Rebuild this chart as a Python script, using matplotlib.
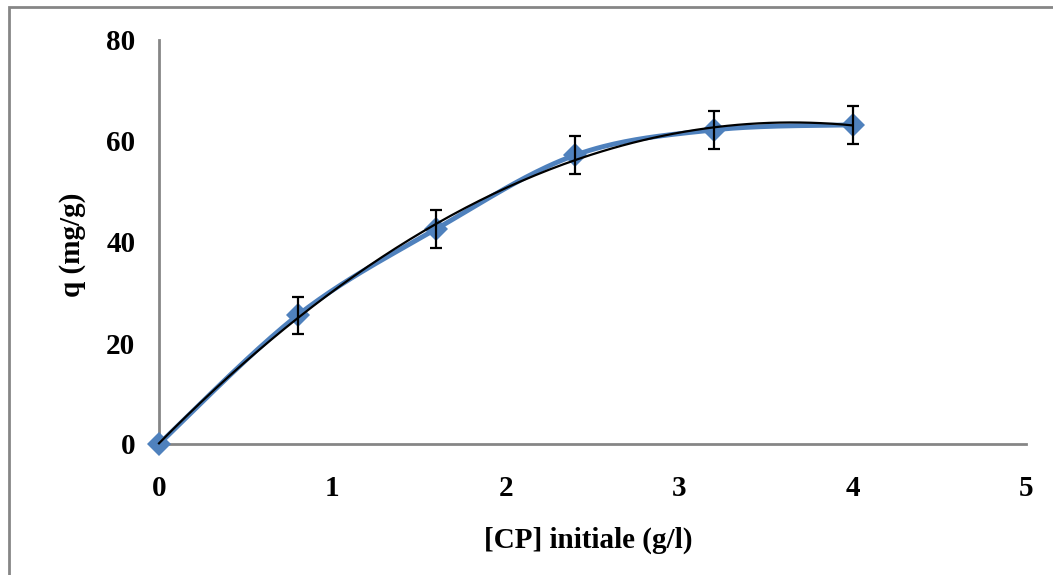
import numpy as np
import matplotlib
matplotlib.use("Agg")
import matplotlib.pyplot as plt
from matplotlib.patches import Rectangle

# Data
cp_initial = [0.0, 0.8, 1.6, 2.4, 3.2, 4.0]
q_values = [0.0, 25.5, 42.6, 57.2, 62.2, 63.2]
q_errors = [0.0, 3.7, 3.7, 3.7, 3.7, 3.7]
x_ticks = [0, 1, 2, 3, 4, 5]
y_ticks = [0, 20, 40, 60, 80]
x_label = "[CP] initiale (g/l)"
y_label = "q (mg/g)"

BLUE = "#4F81BD"
GRAY = "#868686"

plt.rcParams['font.family'] = ['Liberation Serif', 'DejaVu Serif']
plt.rcParams['font.weight'] = 'bold'

W, H = 1053, 575
fig = plt.figure(figsize=(W / 100, H / 100), dpi=100)
ax = fig.add_axes([159 / W, 1 - 444 / H, (1026 - 159) / W, (444 - 40) / H])

x = np.array(cp_initial)
y = np.array(q_values)

# Excel-like smoothed line (Catmull-Rom style Bezier)
def smooth(xs, ys, n=40):
    pts = np.column_stack([xs, ys])
    out = []
    for i in range(len(pts) - 1):
        p0 = pts[i - 1] if i > 0 else pts[i]
        p1 = pts[i]
        p2 = pts[i + 1]
        p3 = pts[i + 2] if i + 2 < len(pts) else pts[i + 1]
        c1 = p1 + (p2 - p0) / 6.0
        c2 = p2 - (p3 - p1) / 6.0
        t = np.linspace(0, 1, n)[:, None]
        seg = ((1 - t) ** 3) * p1 + 3 * ((1 - t) ** 2) * t * c1 + 3 * (1 - t) * t ** 2 * c2 + t ** 3 * p2
        out.append(seg if i == 0 else seg[1:])
    return np.vstack(out)

sm = smooth(x, y)
ax.plot(sm[:, 0], sm[:, 1], color=BLUE, lw=3.5, zorder=2, solid_capstyle='round', clip_on=False)
ax.plot(x, y, linestyle='none', marker='D', ms=12.5, color=BLUE, mew=0, zorder=3, clip_on=False)

# error bars
ax.errorbar(x[1:], y[1:], yerr=np.array(q_errors)[1:], fmt='none', ecolor='black',
            elinewidth=1.6, capsize=4, capthick=1.6, zorder=4)

# polynomial (order 2) trendline
coef = np.polyfit(x, y, 2)
xt = np.linspace(x.min(), x.max(), 200)
ax.plot(xt, np.polyval(coef, xt), color='black', lw=1.6, zorder=5, clip_on=False)

ax.set_xlim(0, 5)
ax.set_ylim(0, 80)
ax.set_xticks(x_ticks)
ax.set_yticks(y_ticks)
ax.set_xticklabels([str(v) for v in x_ticks])
ax.set_yticklabels([str(v) for v in y_ticks])
ax.tick_params(axis='both', length=0, labelsize=21)
ax.tick_params(axis='x', pad=22)
ax.tick_params(axis='y', pad=17)
for lab in ax.get_xticklabels() + ax.get_yticklabels():
    lab.set_fontweight('bold')

for s in ['top', 'right']:
    ax.spines[s].set_visible(False)
for s in ['left', 'bottom']:
    ax.spines[s].set_color(GRAY)
    ax.spines[s].set_linewidth(2)
    ax.spines[s].set_zorder(1)

ax.set_xlabel(x_label, fontsize=21, fontweight='bold')
ax.set_ylabel(y_label, fontsize=21, fontweight='bold')
ax.xaxis.set_label_coords((588 - 159) / (1026 - 159), 1 - (540 - 40) / (444 - 40))
ax.yaxis.set_label_coords((73 - 159) / (1026 - 159), 1 - (245 - 40) / (444 - 40))
ax.xaxis.label.set_va('center')
ax.yaxis.label.set_va('center')

# outer chart frame
fig.add_artist(Rectangle((9 / W, -0.1), 1.2, 1.1 - 7 / H, transform=fig.transFigure,
                         fill=False, edgecolor=GRAY, lw=2))

fig.savefig("out.png", dpi=100)
